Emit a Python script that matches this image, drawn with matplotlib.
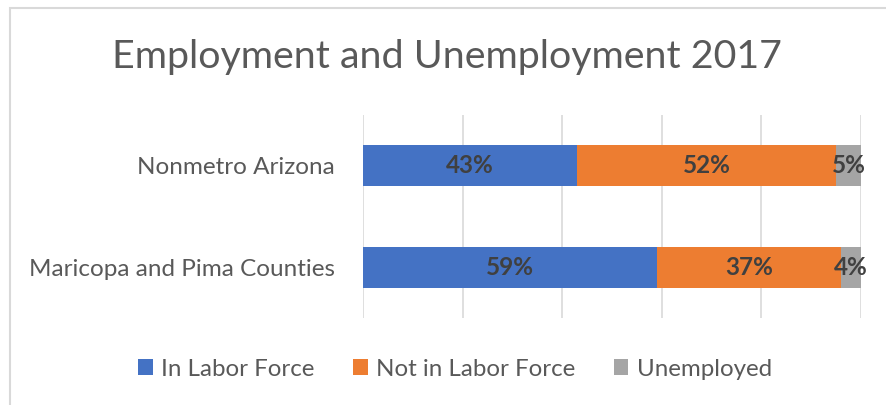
import matplotlib
matplotlib.use("Agg")
import matplotlib.pyplot as plt
from matplotlib.patches import Rectangle, Patch

categories = ["Maricopa and Pima Counties", "Nonmetro Arizona"]
series_names = ["In Labor Force", "Not in Labor Force", "Unemployed"]
in_labor = [59, 43]
not_in_labor = [37, 52]
unemployed = [4, 5]
colors = ["#4472C4", "#ED7D31", "#A5A5A5"]

plt.rcParams["font.family"] = ["Lato", "DejaVu Sans"]

fig = plt.figure(figsize=(8.87, 4.05), dpi=100)
W, H = 887, 405
ax = fig.add_axes([363 / W, (405 - 318) / H, (861 - 363) / W, (318 - 115) / H])

series = [in_labor, not_in_labor, unemployed]
ypos = list(range(len(categories)))
left = [0.0] * len(categories)
for name, vals, col in zip(series_names, series, colors):
    ax.barh(ypos, vals, left=left, height=0.4, color=col, label=name, zorder=3)
    for y, v, l in zip(ypos, vals, left):
        ax.text(l + v / 2, y, f"{v}%", ha="center", va="center",
                fontsize=17.5, fontweight="bold", color="#404040", zorder=4)
    left = [a + b for a, b in zip(left, vals)]

ax.set_xlim(0, 100)
ax.set_ylim(-0.5, 1.5)
ax.set_xticks([0, 20, 40, 60, 80, 100])
ax.set_xticklabels([])
ax.tick_params(axis="x", length=0)
ax.grid(axis="x", color="#D9D9D9", linewidth=1.2, zorder=0)
ax.set_yticks(ypos)
ax.set_yticklabels(categories, fontsize=17.5, color="#595959")
ax.tick_params(axis="y", length=0, pad=20)
for s in ax.spines.values():
    s.set_visible(False)

fig.text(447 / W, 1 - 57 / H, "Employment and Unemployment 2017",
         ha="center", va="center", fontsize=28.4, color="#595959")

handles = [Patch(facecolor=c, edgecolor="none") for c in colors]
fig.legend(handles, series_names, loc="center", bbox_to_anchor=(455 / W, 1 - 369 / H),
           ncol=3, frameon=False, fontsize=17.4, labelcolor="#595959",
           handlelength=0.6, handleheight=0.6, handletextpad=0.35, columnspacing=1.6)

fig.patches.append(Rectangle((10 / W, -0.1), 1.2, 1 - 8 / H + 0.1, transform=fig.transFigure,
                             fill=False, edgecolor="#D9D9D9", linewidth=1.5))

fig.savefig("out.png", dpi=100, facecolor="white")
